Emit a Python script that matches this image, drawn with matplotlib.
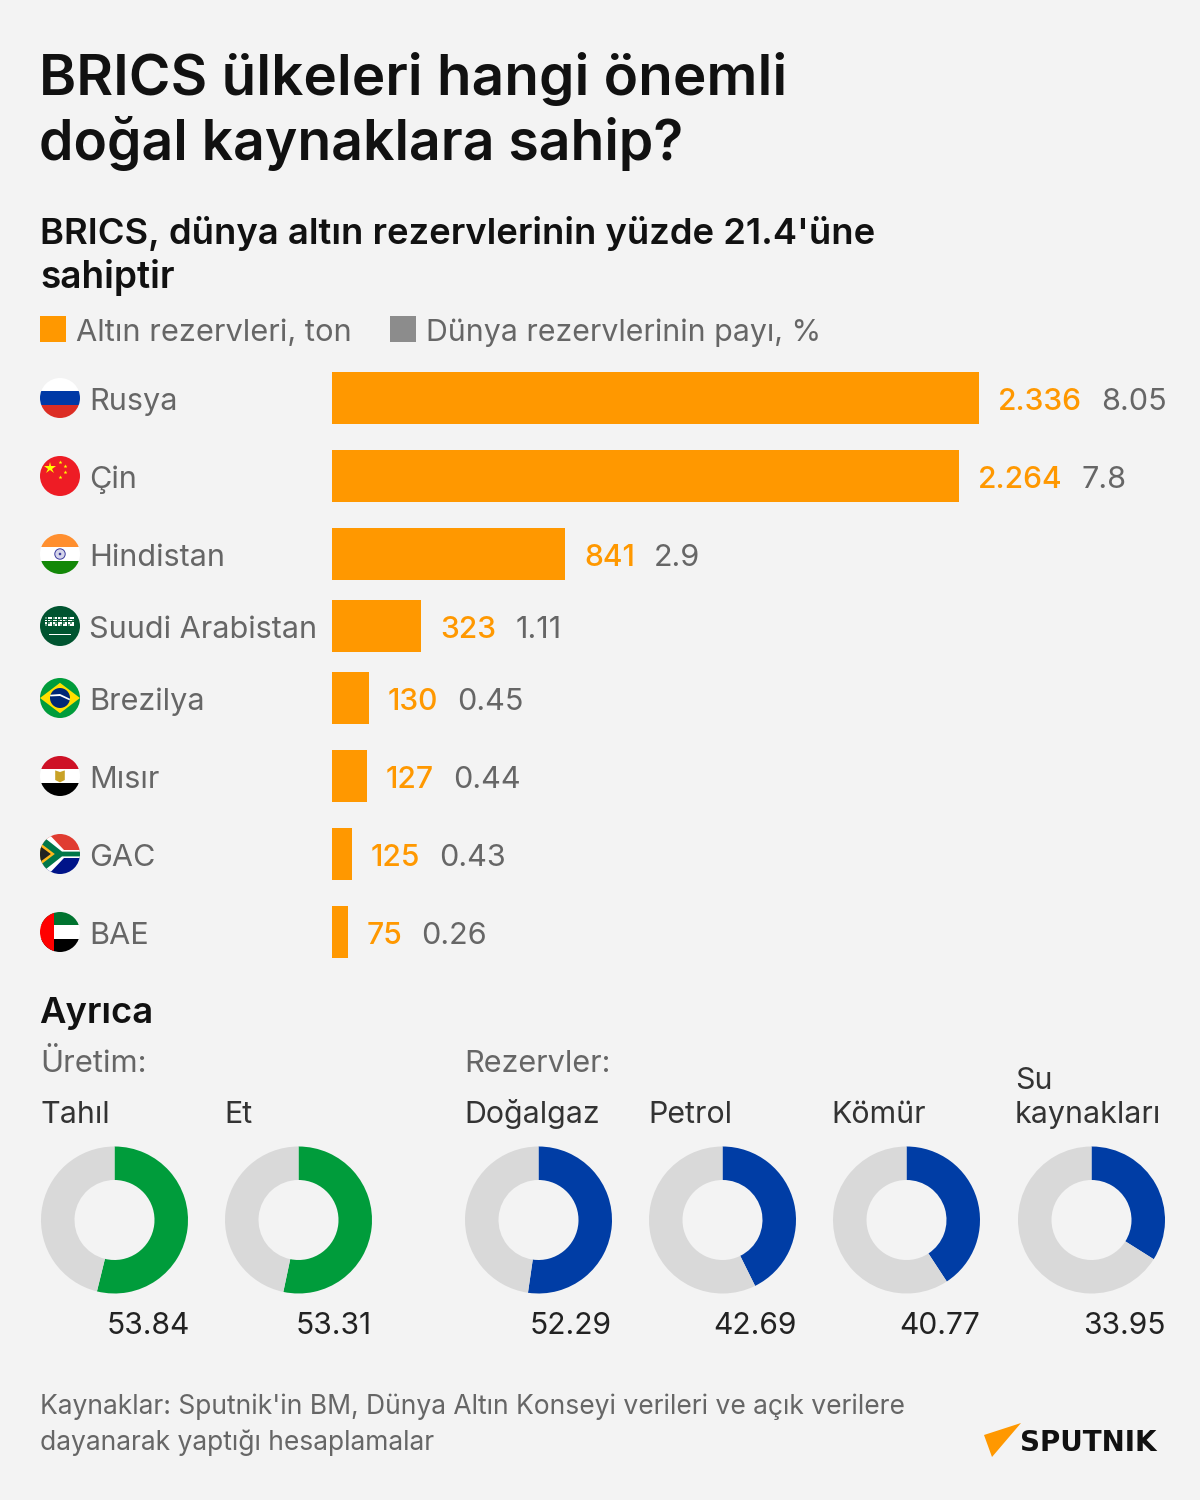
#!/usr/bin/env python3
"""BRICS natural resources infographic (gold reserve bars + share donuts)."""
import numpy as np
import matplotlib
matplotlib.use("Agg")
import matplotlib.pyplot as plt
from matplotlib.patches import Circle, Polygon, Rectangle

BG = "#f3f3f3"
ORANGE = "#ff9800"
GRAY = "#666666"
DARK = "#111111"
GREEN = "#009c3b"
BLUE = "#003da5"
REST = "#d9d9d9"

plt.rcParams["font.family"] = ["Inter", "DejaVu Sans"]

COUNTRIES = ["Rusya", "Çin", "Hindistan", "Suudi Arabistan", "Brezilya", "Mısır", "GAC", "BAE"]
GOLD_LABELS = ["2.336", "2.264", "841", "323", "130", "127", "125", "75"]
SHARE_LABELS = ["8.05", "7.8", "2.9", "1.11", "0.45", "0.44", "0.43", "0.26"]
# bar lengths as drawn in the source, the last two are shorter than their labels
GOLD_BARS = [2336, 2264, 841, 323, 133, 126, 72, 56]

PROD_NAMES = ["Tahıl", "Et"]
PROD_VALUES = [53.84, 53.31]
RES_NAMES = ["Doğalgaz", "Petrol", "Kömür", "Su\nkaynakları"]
RES_VALUES = [52.29, 42.69, 40.77, 33.95]

ROW_Y = [398, 476, 554, 626, 698, 776, 854, 932]
BAR_H = 52
PX_PER_TON = 647 / 2336


def txt(ax, x, y, s, size, color=GRAY, weight="normal", **kw):
    # y is the middle of the capitals, so lines with descenders stay level
    return ax.text(x, y + size * 0.364, s, fontsize=size * 0.72, color=color,
                   fontweight=weight, va="baseline", **kw)


def flag(ax, i, cy, cx=60, r=20):
    clip = Circle((cx, cy), r, transform=ax.transData, fc="none", ec="none")
    ax.add_patch(clip)
    l, t = cx - r, cy - r
    d = 2 * r

    def rect(x, y, w, h, c):
        p = Rectangle((l + x * d, t + y * d), w * d, h * d, fc=c, ec="none")
        ax.add_patch(p)
        p.set_clip_path(clip)

    def poly(pts, c):
        p = Polygon([(l + x * d, t + y * d) for x, y in pts], fc=c, ec="none")
        ax.add_patch(p)
        p.set_clip_path(clip)

    def dot(x, y, rr, c):
        p = Circle((l + x * d, t + y * d), rr, fc=c, ec="none")
        ax.add_patch(p)
        p.set_clip_path(clip)

    if i == 0:
        rect(0, 0, 1, 1 / 3, "#ffffff"); rect(0, 1 / 3, 1, 1 / 3, "#0039a6"); rect(0, 2 / 3, 1, 1 / 3, "#dc2d24")
    elif i == 1:
        rect(0, 0, 1, 1, "#ee1c25")
        ax.plot(l + .25 * d, t + .31 * d, marker="*", ms=9, color="#ffff00", mew=0)
        for x, y in [(.5, .15), (.62, .26), (.62, .41), (.5, .52)]:
            ax.plot(l + x * d, t + y * d, marker="*", ms=3, color="#ffff00", mew=0)
    elif i == 2:
        rect(0, 0, 1, 1 / 3, "#ff8f2f"); rect(0, 1 / 3, 1, 1 / 3, "#ffffff"); rect(0, 2 / 3, 1, 1 / 3, "#138808")
        ax.add_patch(Circle((cx, cy), 5.2, fc="#d5d5ea", ec="#3a3a9c", lw=0.7))
        ax.add_patch(Circle((cx, cy), 1.3, fc="#3a3a9c", ec="none"))
    elif i == 3:
        rect(0, 0, 1, 1, "#005430")
        for row, y in enumerate([.28, .34, .40, .46]):
            for k in range(12):
                c = "#ffffff" if (k + row) % 3 else "#5f9a7d"
                rect(.13 + k * .062, y, .05, .045, c)
        rect(.22, .705, .56, .02, "#ffffff")
    elif i == 4:
        rect(0, 0, 1, 1, "#009c3b")
        poly([(0, .5), (.5, .12), (1, .5), (.5, .88)], "#ffdf00")
        dot(.5, .5, 10, "#002776")
        poly([(.25, .42), (.5, .4), (.75, .52), (.74, .56), (.5, .45), (.26, .46)], "#ffffff")
    elif i == 5:
        rect(0, 0, 1, 1 / 3, "#ce1126"); rect(0, 1 / 3, 1, 1 / 3, "#ffffff"); rect(0, 2 / 3, 1, 1 / 3, "#000000")
        poly([(.38, .36), (.5, .4), (.62, .36), (.62, .6), (.5, .66), (.38, .6)], "#c9a227")
    elif i == 6:
        rect(0, 0, 1, .5, "#e03c31"); rect(0, .5, 1, .5, "#001489")
        poly([(0, .02), (.22, 0), (.6, .4), (1, .4), (1, .6), (.6, .6), (.22, 1), (0, .98)], "#ffffff")
        poly([(0, .1), (.12, .1), (.55, .44), (1, .44), (1, .56), (.55, .56), (.12, .9), (0, .9)], "#007749")
        poly([(0, .22), (.37, .5), (0, .78)], "#ffb81c")
        poly([(0, .3), (.27, .5), (0, .7)], "#222222")
    else:
        rect(0, 0, 1, 1 / 3, "#00732f"); rect(0, 1 / 3, 1, 1 / 3, "#ffffff"); rect(0, 2 / 3, 1, 1 / 3, "#000000")
        rect(0, 0, .35, 1, "#ff0000")


def donut(fig, cx, cy, value, color, r=73.5, inner=40):
    ax = fig.add_axes([(cx - r) / 1200, 1 - (cy + r) / 1500, 2 * r / 1200, 2 * r / 1500])
    ax.pie([value, 100 - value], colors=[color, REST], startangle=90, counterclock=False,
           radius=1, wedgeprops=dict(width=1 - inner / r, linewidth=0))
    ax.set_xlim(-1, 1)
    ax.set_ylim(-1, 1)


def main():
    fig = plt.figure(figsize=(12, 15), dpi=100, facecolor=BG)
    ax = fig.add_axes([0, 0, 1, 1], facecolor="none", zorder=3)
    ax.set_xlim(0, 1200)
    ax.set_ylim(1500, 0)
    ax.axis("off")

    txt(ax, 39, 74, "BRICS ülkeleri hangi önemli", 56.6, DARK, "semibold")
    txt(ax, 39, 140, "doğal kaynaklara sahip?", 55.2, DARK, "semibold")
    txt(ax, 40, 231, "BRICS, dünya altın rezervlerinin yüzde 21.4'üne", 36.4, DARK, "semibold")
    txt(ax, 40, 275, "sahiptir", 37, DARK, "semibold")

    ax.add_patch(Rectangle((40, 316), 26, 26, fc=ORANGE, ec="none"))
    txt(ax, 76, 330, "Altın rezervleri, ton", 30.8)
    ax.add_patch(Rectangle((390, 316), 26, 26, fc="#8c8c8c", ec="none"))
    txt(ax, 426, 330, "Dünya rezervlerinin payı, %", 30.3)

    # bars get their own axes, x in tons
    bx = fig.add_axes([332 / 1200, 0, 868 / 1200, 1], facecolor="none", zorder=2)
    bx.set_xlim(0, 868 / PX_PER_TON)
    bx.set_ylim(1500, 0)
    bx.axis("off")
    bx.barh(ROW_Y, GOLD_BARS, height=BAR_H, color=ORANGE, linewidth=0)

    fig.canvas.draw()
    rend = fig.canvas.get_renderer()
    for i, name in enumerate(COUNTRIES):
        y = ROW_Y[i]
        flag(ax, i, y)
        txt(ax, 89, y + 1, name, 30.6)
        x = 332 + GOLD_BARS[i] * PX_PER_TON + 19
        t = txt(ax, x, y + 1, GOLD_LABELS[i], 30, ORANGE, "medium")
        w = t.get_window_extent(rend).width
        txt(ax, x + w + 19, y + 1, SHARE_LABELS[i], 30.6)

    txt(ax, 39, 1010, "Ayrıca", 36.4, DARK, "semibold")
    txt(ax, 40, 1061, "Üretim:", 31)
    txt(ax, 464, 1061, "Rezervler:", 30.6)

    cols = [(114.5, 40, 190), (298.5, 224, 372)]
    for (cx, lx, rx), n, v in zip(cols, PROD_NAMES, PROD_VALUES):
        txt(ax, lx, 1112, n, 30.4, "#333333")
        donut(fig, cx, 1220, v, GREEN)
        txt(ax, rx, 1323, f"{v:.2f}", 30, "#222222", ha="right")
    cols = [(538.5, 464, 612), (722.5, 648, 797), (906.5, 831, 980), (1091.5, 1015, 1166)]
    for (cx, lx, rx), n, v in zip(cols, RES_NAMES, RES_VALUES):
        if "\n" in n:
            a, b = n.split("\n")
            txt(ax, lx, 1078, a, 30.4, "#333333")
            txt(ax, lx, 1112, b, 30.4, "#333333")
        else:
            txt(ax, lx, 1112, n, 30.4, "#333333")
        donut(fig, cx, 1220, v, BLUE)
        txt(ax, rx, 1323, f"{v:.2f}", 30, "#222222", ha="right")

    txt(ax, 40, 1404, "Kaynaklar: Sputnik'in BM, Dünya Altın Konseyi verileri ve açık verilere", 26.45)
    txt(ax, 40, 1440, "dayanarak yaptığı hesaplamalar", 26.45)

    ax.add_patch(Polygon([(984, 1435), (1021, 1423), (992, 1457)], fc=ORANGE, ec="none"))
    ax.text(1020, 1451, "SPUTNIK", fontsize=20, color="#111111", fontweight="bold",
            family="DejaVu Sans", va="baseline")

    fig.savefig("out.png", dpi=100, facecolor=BG)
    plt.close(fig)


if __name__ == "__main__":
    main()
